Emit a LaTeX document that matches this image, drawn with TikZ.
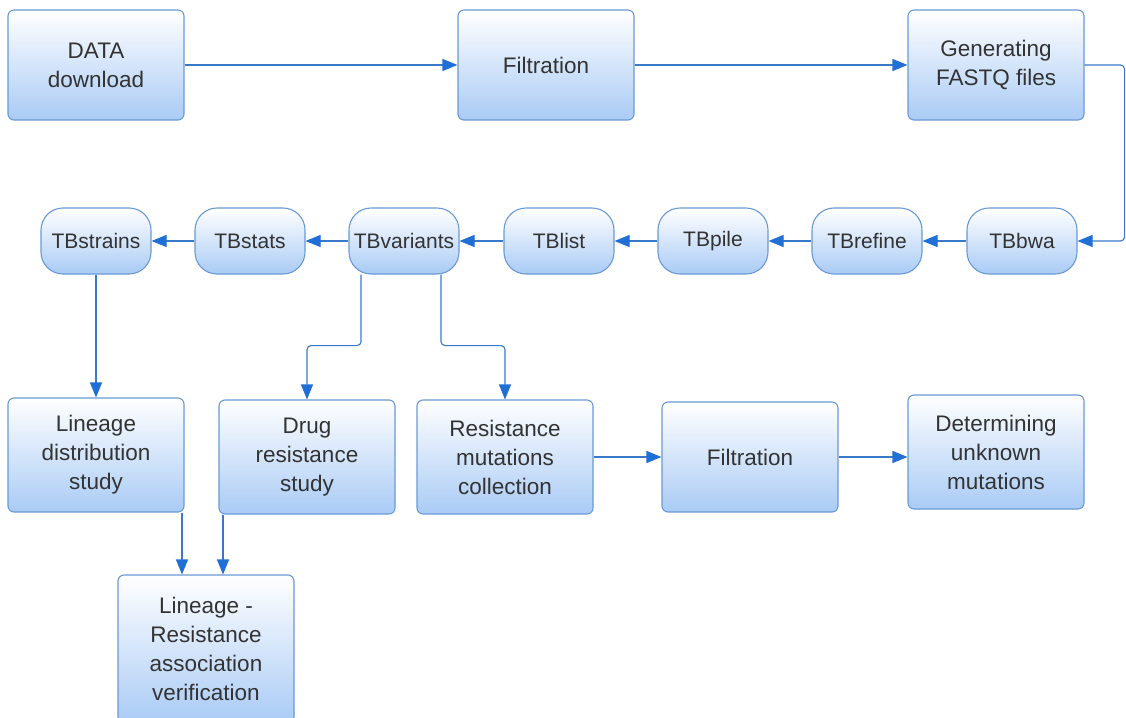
\documentclass[tikz,border=0pt]{standalone}
\usepackage{fontspec}
\setmainfont{Liberation Sans}
\usetikzlibrary{arrows.meta,calc}
\definecolor{boxline}{HTML}{6A9AD6}
\definecolor{boxblue}{HTML}{A9CBF5}
\definecolor{txt}{HTML}{333333}
\definecolor{arrc}{HTML}{3A78C9}
\definecolor{headc}{HTML}{1F6FD6}
\tikzset{
  stepbox/.style={draw=boxline, line width=1.1pt, rounded corners=6pt,
    top color=white, middle color=white!88!boxblue, bottom color=boxblue,
    minimum width=176pt, minimum height=110pt, align=center, text=txt,
    font=\fontsize{22.5}{29}\selectfont, inner sep=2pt},
  tbbox/.style={draw=boxline, line width=1.1pt, rounded corners=22pt,
    top color=white, middle color=white!88!boxblue, bottom color=boxblue,
    minimum width=110pt, minimum height=66pt, align=center, text=txt,
    font=\fontsize{21}{25}\selectfont, inner sep=1pt},
  arr/.style={draw=arrc, line width=1.1pt, rounded corners=4pt,
    -{Triangle[length=15pt,width=12pt,fill=headc,color=headc]}},
}
\begin{document}
\begin{tikzpicture}[x=1pt,y=-1pt]
\useasboundingbox (0,0) rectangle (1126,717);
\fill[white] (0,0) rectangle (1126,717);
% top row
\node[stepbox] (data) at (96,65) {DATA\\download};
\node[stepbox] (filt1) at (546,65) {Filtration};
\node[stepbox] (gen) at (996,65) {Generating\\FASTQ files};
% TB row
\node[tbbox] (strains) at (96,241) {TBstrains};
\node[tbbox] (stats) at (250,241) {TBstats};
\node[tbbox] (var) at (404,241) {TBvariants};
\node[tbbox] (list) at (559,241) {TBlist};
\node[tbbox] (pile) at (713,241) {TBpile};
\node[tbbox] (refine) at (867,241) {TBrefine};
\node[tbbox] (bwa) at (1022,241) {TBbwa};
% third row
\node[stepbox, minimum height=114pt] (lin) at (96,455) {Lineage\\distribution\\study};
\node[stepbox, minimum height=114pt] (drug) at (307,457) {Drug\\resistance\\study};
\node[stepbox, minimum height=114pt] (rmc) at (505,457) {Resistance\\mutations\\collection};
\node[stepbox] (filt2) at (750,457) {Filtration};
\node[stepbox, minimum height=114pt] (det) at (996,452) {Determining\\unknown\\mutations};
% bottom
\node[stepbox, minimum height=148pt] (lrav) at (206,649) {Lineage -\\Resistance\\association\\verification};
% connectors
\draw[arr] (data) -- (filt1);
\draw[arr] (filt1) -- (gen);
\draw[arr] (gen.east) -- ++(40,0) |- (bwa.east);
\draw[arr] (bwa) -- (refine);
\draw[arr] (refine) -- (pile);
\draw[arr] (pile) -- (list);
\draw[arr] (list) -- (var);
\draw[arr] (var) -- (stats);
\draw[arr] (stats) -- (strains);
\draw[arr] (strains) -- (lin);
\draw[arr] ([xshift=-43pt]var.south) -- ++(0,71) -| (drug.north);
\draw[arr] ([xshift=37pt]var.south) -- ++(0,71) -| (rmc.north);
\draw[arr] (rmc.east |- filt2.west) -- (filt2.west);
\draw[arr] (filt2.east) -- (filt2.east -| det.west);
\draw[arr] ([xshift=86pt]lin.south) -- ([xshift=86pt]lin.south |- lrav.north);
\draw[arr] ([xshift=-84pt]drug.south) -- ([xshift=-84pt]drug.south |- lrav.north);
\end{tikzpicture}
\end{document}
